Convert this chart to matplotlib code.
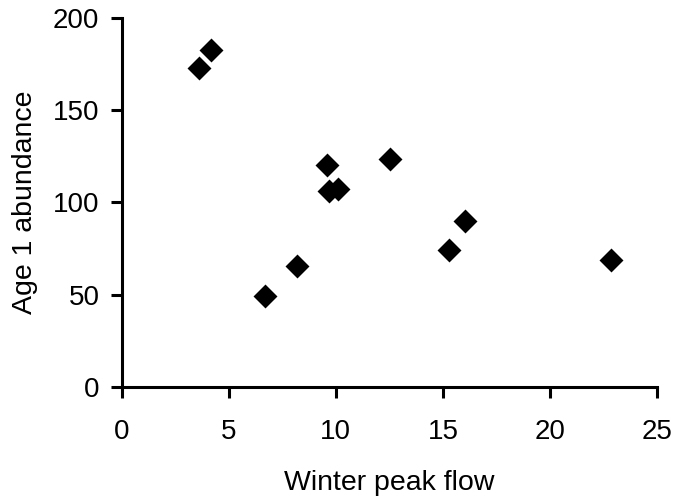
import matplotlib
matplotlib.use("Agg")
import matplotlib.pyplot as plt

# Winter peak flow vs age 1 abundance
peak_flow = [3.6, 4.15, 6.7, 8.2, 9.6, 9.7, 10.1, 12.55, 15.3, 16.05, 22.85]
abundance = [173, 182.6, 49.4, 65.3, 120, 106.2, 107.2, 123.5, 74, 90.1, 68.7]

x_ticks = [0, 5, 10, 15, 20, 25]
y_ticks = [0, 50, 100, 150, 200]

plt.rcParams["font.family"] = ["Liberation Sans", "DejaVu Sans"]

fig = plt.figure(figsize=(6.76, 4.99), dpi=100)
ax = fig.add_axes([0.180, 0.225, 0.792, 0.739])

ax.scatter(peak_flow, abundance, marker="D", s=12.2 ** 2, color="black",
           linewidths=0, clip_on=False, zorder=3)

ax.set_xlim(0, 25)
ax.set_ylim(0, 200)
ax.set_xticks(x_ticks)
ax.set_yticks(y_ticks)

for side in ["top", "right"]:
    ax.spines[side].set_visible(False)
for side in ["left", "bottom"]:
    ax.spines[side].set_linewidth(2.2)

ax.tick_params(direction="out", length=8, width=2.2, labelsize=20)
ax.tick_params(axis="x", pad=15.5)
ax.tick_params(axis="y", pad=8)

ax.set_xlabel("Winter peak flow", fontsize=20.5, labelpad=18)
ax.set_ylabel("Age 1 abundance", fontsize=20.5, labelpad=10.5)

fig.savefig("out.png", dpi=100)
